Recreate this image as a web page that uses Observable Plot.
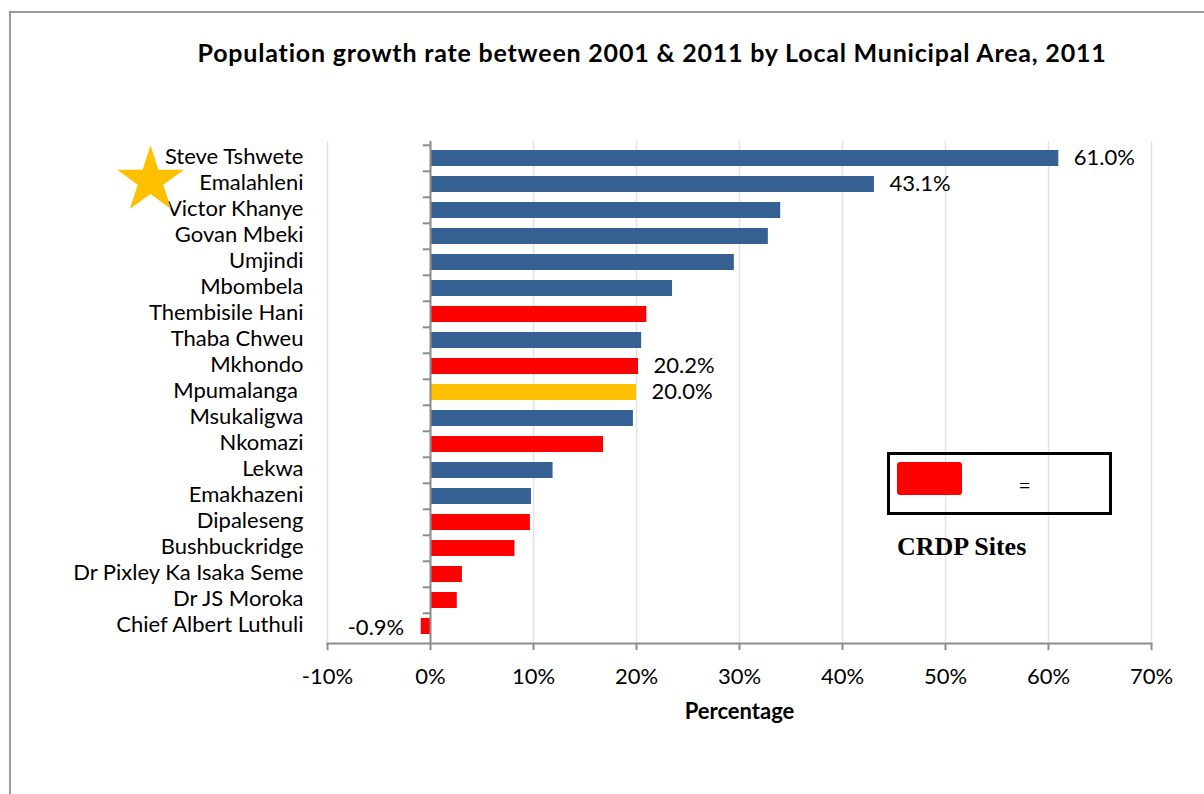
<!DOCTYPE html>
<html>
<head>
<meta charset="utf-8">
<script src="https://cdn.jsdelivr.net/npm/d3@7"></script>
<script src="https://cdn.jsdelivr.net/npm/@observablehq/plot@0.6"></script>
<style>
  html, body { margin: 0; padding: 0; background: #fff; }
  #wrap { position: relative; width: 1204px; height: 794px; overflow: hidden; background: #fff; font-family: Lato, sans-serif; }
  #frame { position: absolute; left: 9px; top: 11px; width: 1300px; height: 900px; border-left: 2px solid #9a9a9a; border-top: 2px solid #9a9a9a; }
  #title { position: absolute; top: 37px; left: 652px; transform: translateX(-50%); white-space: nowrap; font-weight: bold; font-size: 25px; letter-spacing: 0.8px; color: #000; }
  #legend { position: absolute; left: 887px; top: 452px; width: 219px; height: 57px; border: 3.5px solid #000; }
  #legend .sw { position: absolute; left: 7px; top: 7px; width: 65px; height: 33px; background: #ff0000; border-radius: 3px; }
  #legend .eq { position: absolute; left: 129px; top: 20px; font-family: "Liberation Serif", serif; font-size: 20px; }
  #crdp { position: absolute; left: 897px; top: 532px; font-family: "Liberation Serif", serif; font-weight: bold; font-size: 26px; white-space: nowrap; }
  #chart { position: absolute; left: 0; top: 0; }
</style>
</head>
<body>
<div id="wrap">
  <div id="frame"></div>
  <div id="chart"></div>
  <div id="title">Population growth rate between 2001 &amp; 2011 by Local Municipal Area, 2011</div>
  <div id="legend"><div class="sw"></div><div class="eq">=</div></div>
  <div id="crdp">CRDP Sites</div>
</div>
<script>
// Data
const municipalities = [
  "Steve Tshwete", "Emalahleni", "Victor Khanye", "Govan Mbeki", "Umjindi",
  "Mbombela", "Thembisile Hani", "Thaba Chweu", "Mkhondo", "Mpumalanga ",
  "Msukaligwa", "Nkomazi", "Lekwa", "Emakhazeni", "Dipaleseng",
  "Bushbuckridge", "Dr Pixley Ka Isaka Seme", "Dr JS Moroka", "Chief Albert Luthuli"
];
const growthRate = [61.0, 43.1, 34.0, 32.8, 29.5, 23.5, 21.0, 20.5, 20.2, 20.0, 19.7, 16.8, 11.9, 9.8, 9.7, 8.2, 3.1, 2.6, -0.9];
const group = ["other", "other", "other", "other", "other", "other", "crdp", "other", "crdp", "province",
  "other", "crdp", "other", "other", "crdp", "crdp", "crdp", "crdp", "crdp"];
const labelled = ["Steve Tshwete", "Emalahleni", "Mkhondo", "Mpumalanga ", "Chief Albert Luthuli"];
const xTicks = [-10, 0, 10, 20, 30, 40, 50, 60, 70];
const groupDomain = ["other", "crdp", "province"];
const groupColors = ["#366092", "#ff0000", "#ffc000"];

const rows = municipalities.map((name, i) => ({name, value: growthRate[i], group: group[i]}));
const labelRows = rows.filter(d => labelled.includes(d.name));

const W = 1204, H = 794, mt = 141, mb = 151, ml = 327, mr = 53;
const step = (H - mt - mb) / municipalities.length;

const chart = Plot.plot({
  width: W, height: H,
  marginTop: mt, marginBottom: mb, marginLeft: ml, marginRight: mr,
  style: {fontFamily: "Lato, sans-serif", fontSize: "22px", color: "#000", background: "transparent"},
  x: {domain: [-10, 70]},
  y: {domain: municipalities, paddingInner: 0.39, paddingOuter: 0.195},
  color: {domain: groupDomain, range: groupColors},
  marks: [
    Plot.gridX(xTicks, {stroke: "#e3e3e3", strokeOpacity: 1, strokeWidth: 1.5}),
    Plot.barX(rows, {x: "value", y: "name", fill: "group"}),
    Plot.ruleX([0], {stroke: "#8c8c8c", strokeWidth: 2}),
    Plot.ruleY(municipalities, {y: d => d, x1: -0.7, x2: 0, dy: -step / 2, stroke: "#8c8c8c", strokeWidth: 2}),
    Plot.frame({anchor: "bottom", stroke: "#8c8c8c", strokeWidth: 2}),
    Plot.axisX(xTicks, {tickSize: 7, tickPadding: 18, tickFormat: d => d + "%", stroke: "#8c8c8c", strokeWidth: 2, label: null, fontSize: 22}),
    Plot.axisY({tickSize: 0, tickPadding: 24, label: null, fontSize: 22, dy: -2}),
    Plot.text(labelRows.filter(d => d.value >= 0), {x: "value", y: "name", text: d => d.value.toFixed(1) + "%", textAnchor: "start", dx: 15, dy: -1, fontSize: 22}),
    Plot.text(labelRows.filter(d => d.value < 0), {x: "value", y: "name", text: d => d.value.toFixed(1) + "%", textAnchor: "end", dx: -17, dy: 1, fontSize: 22}),
    Plot.text(["Percentage"], {frameAnchor: "bottom", dy: 75, fontWeight: "bold", fontSize: 22}),
    Plot.dot([0], {frameAnchor: "top-left", dx: -177, dy: 39, symbol: "star", r: 21, fill: "#ffc000", stroke: "none"})
  ]
});
document.getElementById("chart").appendChild(chart);
</script>
</body>
</html>
